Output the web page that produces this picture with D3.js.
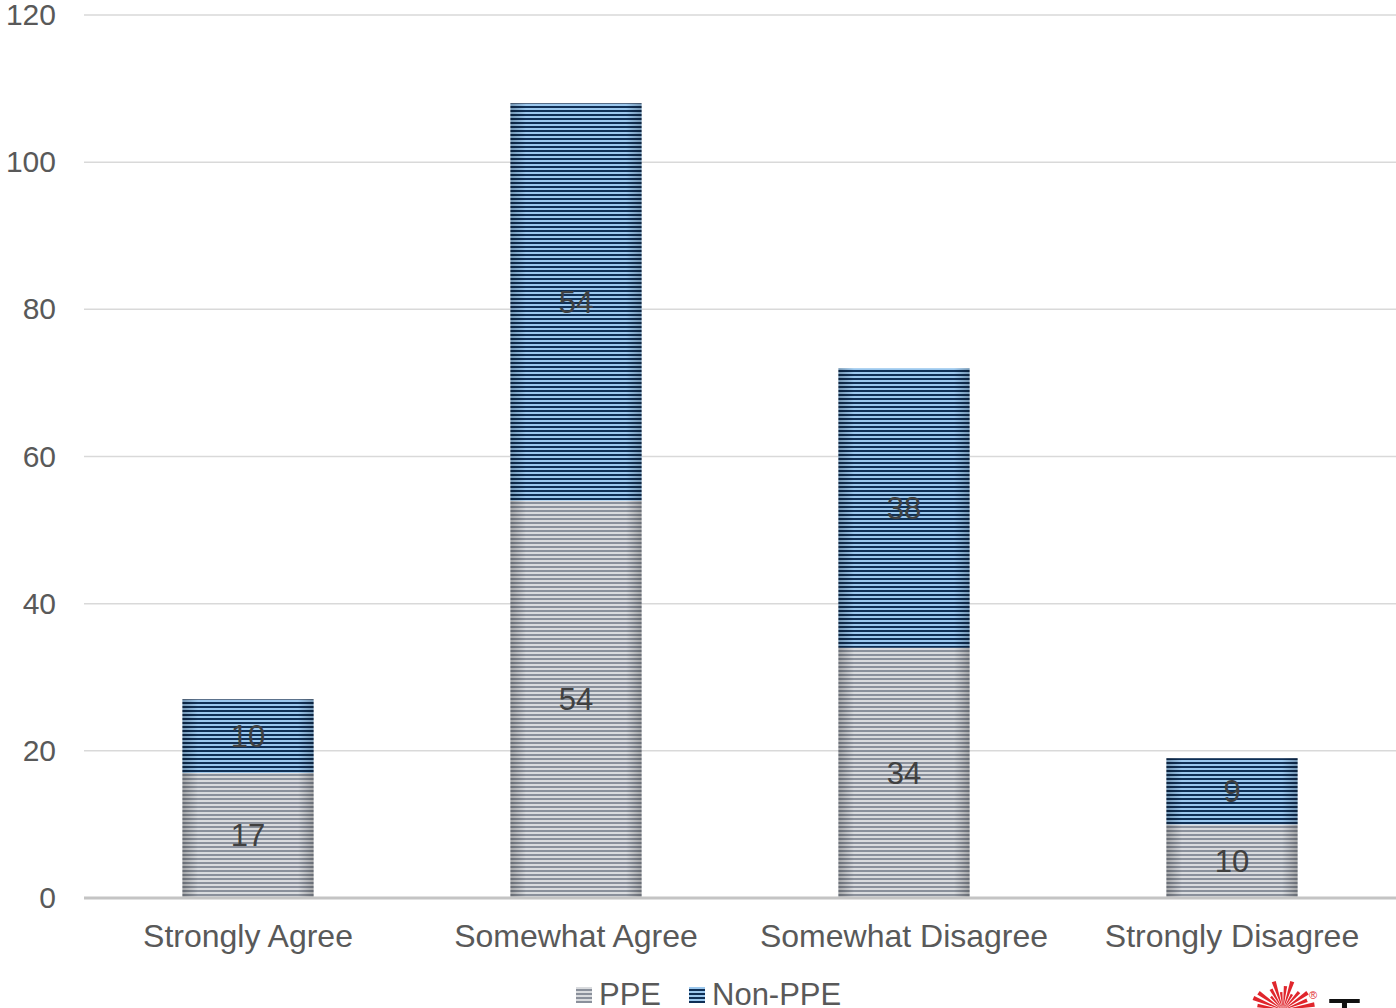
<!DOCTYPE html>
<html>
<head>
<meta charset="utf-8">
<script src="https://cdn.jsdelivr.net/npm/d3@7"></script>
<style>
  body { margin: 0; background: #fff; }
  text { font-family: "Liberation Sans", Arial, sans-serif; }
</style>
</head>
<body>
<script>
// data
var categories = ["Strongly Agree", "Somewhat Agree", "Somewhat Disagree", "Strongly Disagree"];
var ppe = [17, 54, 34, 10];
var nonPpe = [10, 54, 38, 9];
var seriesNames = ["PPE", "Non-PPE"];
var yTicks = [0, 20, 40, 60, 80, 100, 120];

var width = 1396;
var height = 1008;
var plotLeft = 84, plotRight = 1396, plotTop = 15, plotBottom = 898;

var svg = d3.select("body").append("svg")
  .attr("width", width)
  .attr("height", height);

var defs = svg.append("defs");

// striped fills
function stripes(id, light, dark) {
  var p = defs.append("pattern")
    .attr("id", id)
    .attr("patternUnits", "userSpaceOnUse")
    .attr("width", 8)
    .attr("height", 4);
  p.append("rect").attr("width", 8).attr("height", 4).attr("fill", light);
  p.append("rect").attr("y", 2).attr("width", 8).attr("height", 2).attr("fill", dark);
}
stripes("stripeGrey", "#d9dbde", "#8a909b");
stripes("stripeBlue", "#9cc8ee", "#0f2f55");

// darker edges on each bar
var shade = defs.append("linearGradient")
  .attr("id", "edgeShade")
  .attr("x1", 0).attr("x2", 1).attr("y1", 0).attr("y2", 0);
shade.append("stop").attr("offset", 0).attr("stop-color", "#000").attr("stop-opacity", 0.25);
shade.append("stop").attr("offset", 0.12).attr("stop-color", "#000").attr("stop-opacity", 0);
shade.append("stop").attr("offset", 0.88).attr("stop-color", "#000").attr("stop-opacity", 0);
shade.append("stop").attr("offset", 1).attr("stop-color", "#000").attr("stop-opacity", 0.25);

var x = d3.scaleBand()
  .domain(categories)
  .range([plotLeft, plotRight])
  .paddingInner(0.6)
  .paddingOuter(0.3);

var y = d3.scaleLinear()
  .domain([0, 120])
  .range([plotBottom, plotTop]);

// gridlines
svg.append("g")
  .selectAll("line")
  .data(yTicks.slice(1))
  .enter()
  .append("line")
  .attr("x1", plotLeft).attr("x2", plotRight)
  .attr("y1", function(d) { return y(d); })
  .attr("y2", function(d) { return y(d); })
  .attr("stroke", "#d9d9d9")
  .attr("stroke-width", 1.5);

// y axis labels
var yAxe = d3.axisLeft(y).tickValues(yTicks).tickSize(0).tickPadding(0);
var yg = svg.append("g")
  .attr("transform", "translate(" + [56, 0] + ")")
  .call(yAxe);
yg.select(".domain").remove();
yg.selectAll("text")
  .attr("font-size", 30)
  .attr("fill", "#595959")
  .attr("font-family", "Liberation Sans, Arial, sans-serif");

// stacked data
var rows = categories.map(function(c, i) {
  return { cat: c, PPE: ppe[i], "Non-PPE": nonPpe[i] };
});
var stack = d3.stack().keys(seriesNames)(rows);
var fills = { "PPE": "url(#stripeGrey)", "Non-PPE": "url(#stripeBlue)" };

stack.forEach(function(layer) {
  var g = svg.append("g");
  g.selectAll("rect.bar")
    .data(layer)
    .enter()
    .append("rect")
    .attr("class", "bar")
    .attr("x", function(d) { return x(d.data.cat); })
    .attr("y", function(d) { return y(d[1]); })
    .attr("width", x.bandwidth())
    .attr("height", function(d) { return y(d[0]) - y(d[1]); })
    .attr("fill", fills[layer.key]);
  g.selectAll("rect.shade")
    .data(layer)
    .enter()
    .append("rect")
    .attr("class", "shade")
    .attr("x", function(d) { return x(d.data.cat); })
    .attr("y", function(d) { return y(d[1]); })
    .attr("width", x.bandwidth())
    .attr("height", function(d) { return y(d[0]) - y(d[1]); })
    .attr("fill", "url(#edgeShade)");
  g.selectAll("text")
    .data(layer)
    .enter()
    .append("text")
    .attr("x", function(d) { return x(d.data.cat) + x.bandwidth() / 2; })
    .attr("y", function(d) { return y((d[0] + d[1]) / 2); })
    .attr("dy", "0.35em")
    .attr("text-anchor", "middle")
    .attr("font-size", 31)
    .attr("fill", "#404040")
    .text(function(d) { return d.data[layer.key]; });
});

// baseline
svg.append("line")
  .attr("x1", plotLeft).attr("x2", plotRight)
  .attr("y1", y(0)).attr("y2", y(0))
  .attr("stroke", "#c4c4c4")
  .attr("stroke-width", 3);

// x axis labels
var xAxe = d3.axisBottom(x).tickSize(0).tickPadding(0);
var xg = svg.append("g")
  .attr("transform", "translate(" + [0, 924] + ")")
  .call(xAxe);
xg.select(".domain").remove();
xg.selectAll("text")
  .attr("font-size", 32)
  .attr("fill", "#595959")
  .attr("font-family", "Liberation Sans, Arial, sans-serif");

// legend
var legendX = [576, 689];
var legend = svg.selectAll(".legend")
  .data(seriesNames)
  .enter()
  .append("g")
  .attr("class", "legend")
  .attr("transform", function(d, i) { return "translate(" + [legendX[i], 987] + ")"; });
legend.append("rect")
  .attr("width", 16).attr("height", 16)
  .attr("fill", function(d) { return fills[d]; });
legend.append("text")
  .attr("x", 23)
  .attr("y", 18)
  .attr("font-size", 31)
  .attr("fill", "#595959")
  .text(function(d) { return d; });

// partial logo at bottom right
var logo = svg.append("g").attr("transform", "translate(1283,1010)");
var rays = [-80, -68, -55, -42, -30, -18, -6, 6, 18, 30, 42, 55, 68, 80];
logo.selectAll("path")
  .data(rays)
  .enter()
  .append("path")
  .attr("d", function(a, i) {
    var r = 18 + (i % 3) * 6 + (Math.abs(a) > 60 ? 8 : 0);
    var rad = (a - 90) * Math.PI / 180;
    var w = 0.07;
    return "M0,0 L" + (r * Math.cos(rad - w)) + "," + (r * Math.sin(rad - w)) +
      " L" + (r * Math.cos(rad + w)) + "," + (r * Math.sin(rad + w)) + " Z";
  })
  .attr("fill", "#e0262c");
logo.append("text")
  .attr("x", 26).attr("y", -11)
  .attr("font-size", 11)
  .attr("fill", "#e0262c")
  .text("®");
svg.append("text")
  .attr("x", 1328).attr("y", 1036)
  .attr("font-size", 54)
  .attr("font-family", "Liberation Serif, serif")
  .attr("fill", "#111")
  .text("T");
</script>
</body>
</html>
